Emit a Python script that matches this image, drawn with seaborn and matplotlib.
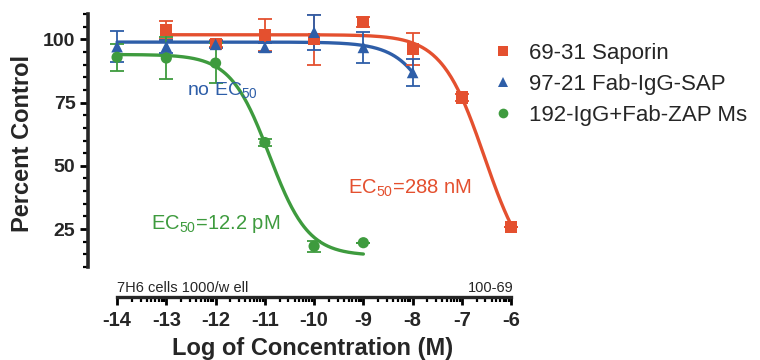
import numpy as np
import pandas as pd
import matplotlib
matplotlib.use("Agg")
import matplotlib.pyplot as plt
import seaborn as sns
from matplotlib.lines import Line2D

# ---------------- data ----------------
series_names = ["69-31 Saporin", "97-21 Fab-IgG-SAP", "192-IgG+Fab-ZAP Ms"]

sap_x = [-13, -12, -11, -10, -9, -8, -7, -6]
sap_y = [103.7, 98.3, 101.7, 100.0, 107.0, 96.2, 77.0, 26.0]
sap_err = [3.7, 1.5, 6.5, 10.0, 2.0, 6.3, 1.5, 0.0]

fab_x = [-14, -13, -12, -11, -10, -9, -8]
fab_y = [97.1, 97.1, 98.0, 96.8, 102.8, 96.8, 86.9]
fab_err = [6.0, 2.5, 1.5, 1.8, 7.0, 6.0, 5.3]

zap_x = [-14, -13, -12, -11, -10, -9]
zap_y = [92.9, 92.6, 90.6, 59.2, 18.2, 19.6]
zap_err = [5.3, 8.3, 8.0, 1.5, 2.2, 0.0]

# fitted 4PL parameters: top, bottom, logEC50, hill, fit range
sap_fit = (101.8, 5.0, -6.54, 1.0, -13, -6)
fab_fit = (98.9, 0.0, -7.14, 1.0, -14, -8)
zap_fit = (94.0, 14.5, -10.91, 1.1, -14, -9)

colors = ["#E4502F", "#2E5EA8", "#3E9B3E"]
markers = ["s", "^", "o"]

ec50_texts = [r"EC$_{50}$=288 nM", r"no EC$_{50}$", r"EC$_{50}$=12.2 pM"]

y_major = [25, 50, 75, 100]
x_major = [-14, -13, -12, -11, -10, -9, -8, -7, -6]

# ---------------- style ----------------
sns.set_theme(style="ticks")
plt.rcParams["font.family"] = ["Liberation Sans", "DejaVu Sans"]
plt.rcParams["mathtext.fontset"] = "custom"
plt.rcParams["mathtext.rm"] = "Liberation Sans"
plt.rcParams["mathtext.it"] = "Liberation Sans"
plt.rcParams["mathtext.default"] = "regular"

W, H = 760, 360
fig = plt.figure(figsize=(W / 100, H / 100), dpi=100)
L, R, T, B = 88, 521, 14, 267
ax = fig.add_axes([L / W, 1 - B / H, (R - L) / W, (B - T) / H])

pts = pd.concat([
    pd.DataFrame({"x": sap_x, "y": sap_y, "err": sap_err, "series": series_names[0]}),
    pd.DataFrame({"x": fab_x, "y": fab_y, "err": fab_err, "series": series_names[1]}),
    pd.DataFrame({"x": zap_x, "y": zap_y, "err": zap_err, "series": series_names[2]}),
])

def four_pl(x, top, bottom, logec, hill):
    return bottom + (top - bottom) / (1 + 10 ** ((x - logec) * hill))

curves = []
for name, fit in zip(series_names, [sap_fit, fab_fit, zap_fit]):
    top, bottom, logec, hill, x0, x1 = fit
    xs = np.linspace(x0, x1, 300)
    curves.append(pd.DataFrame({"x": xs, "y": four_pl(xs, top, bottom, logec, hill), "series": name}))
curves = pd.concat(curves)

palette = dict(zip(series_names, colors))
sns.lineplot(data=curves, x="x", y="y", hue="series", palette=palette, linewidth=2.4,
             legend=False, ax=ax, zorder=2)

for name, c in zip(series_names, colors):
    d = pts[pts.series == name]
    ax.errorbar(d.x, d.y, yerr=d.err, fmt="none", ecolor=c, elinewidth=1.3,
                capsize=5, capthick=1.3, zorder=3)

sizes = {series_names[0]: 75, series_names[1]: 70, series_names[2]: 65}
for name, c, m in zip(series_names, colors, markers):
    d = pts[pts.series == name]
    sns.scatterplot(data=d, x="x", y="y", color=c, marker=m, s=sizes[name],
                    edgecolor="none", linewidth=0, ax=ax, zorder=4, legend=False)

# annotations
ax.text(-8.05, 41.2, ec50_texts[0], color=colors[0], fontsize=14.5, ha="center", va="center")
ax.text(-11.85, 80.0, ec50_texts[1], color=colors[1], fontsize=14, ha="center", va="center")
ax.text(-12.0, 27.0, ec50_texts[2], color=colors[2], fontsize=14.5, ha="center", va="center")

# axes
ax.set_xlim(-14.59, -5.8)
ax.set_ylim(10, 110)
sns.despine(ax=ax)
ax.spines["left"].set_bounds(10, 110)
ax.spines["left"].set_linewidth(2.6)
ax.spines["bottom"].set_position(("outward", 21.6))
ax.spines["bottom"].set_bounds(-14, -6)
ax.spines["bottom"].set_linewidth(2.4)

ax.set_yticks(y_major)
ax.set_yticklabels([str(v) for v in y_major], fontweight="bold", fontsize=14)
ax.set_yticks(np.arange(10, 111, 5), minor=True)
ax.set_xticks(x_major)
ax.set_xticklabels([str(v) for v in x_major], fontweight="bold", fontsize=14.5)
minor_x = [d + np.log10(k) for d in x_major[:-1] for k in range(2, 10)]
ax.set_xticks(minor_x, minor=True)
ax.tick_params(axis="both", which="major", direction="out", length=6, width=2, color="black", pad=3)
ax.tick_params(axis="both", which="minor", direction="out", length=3.5, width=1.6, color="black")
ax.tick_params(axis="x", which="major", pad=4)

ax.set_xlabel("Log of Concentration (M)", fontweight="bold", fontsize=17)
ax.set_ylabel("Percent Control", fontweight="bold", fontsize=17)
ax.xaxis.set_label_coords((313 - L) / (R - L), (B - 348) / (B - T))
ax.yaxis.set_label_coords((23 - L) / (R - L), (B - 143) / (B - T))
ax.xaxis.label.set_va("center")
ax.yaxis.label.set_va("center")

fig.text(117 / W, 1 - 292 / H, "7H6 cells 1000/w ell", fontsize=10.5, ha="left", va="baseline")
fig.text(514 / W, 1 - 292 / H, "100-69", fontsize=10.5, ha="right", va="baseline")

handles = [Line2D([], [], linestyle="none", marker=m, color=c, markersize=ms, markeredgewidth=0)
           for c, m, ms in zip(colors, markers, [7, 7, 7])]
fig.legend(handles, series_names, loc="upper left", bbox_to_anchor=(492 / W, 1 - 43 / H),
           frameon=False, fontsize=16, handlelength=1.0, handletextpad=0.65, labelspacing=0.45,
           borderaxespad=0, borderpad=0)

fig.savefig("out.png", dpi=100)
